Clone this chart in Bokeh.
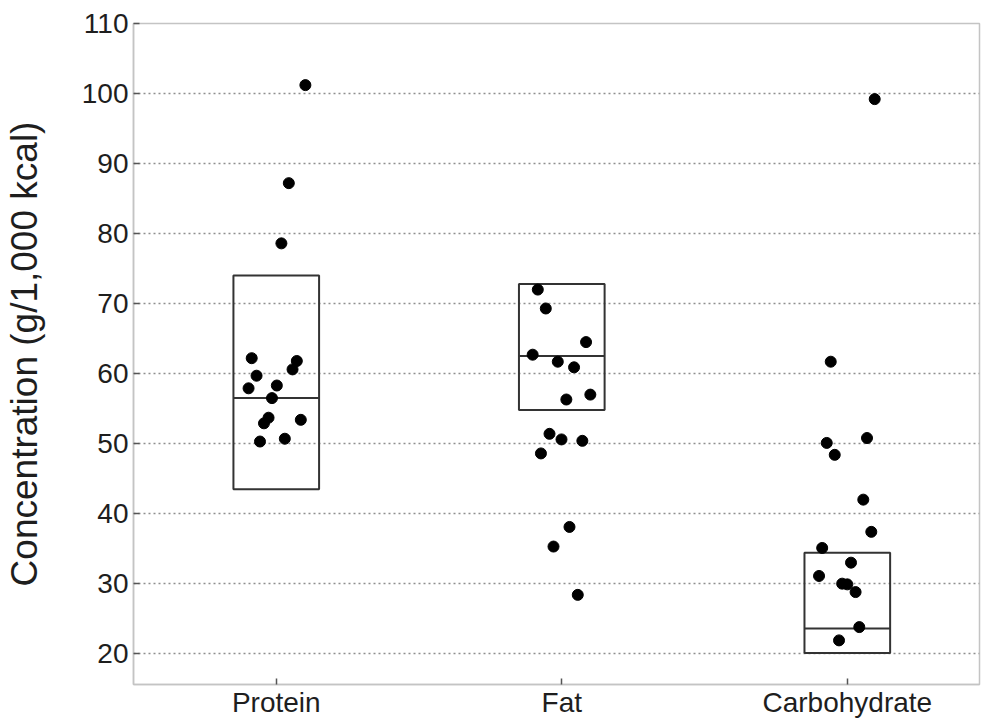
from bokeh.plotting import figure
from bokeh.models import ColumnDataSource, FixedTicker
from bokeh.embed import file_html
from bokeh.resources import INLINE

categories = ["Protein", "Fat", "Carbohydrate"]

# box statistics (lower, median, upper)
box_low = [43.5, 54.8, 20.1]
box_median = [56.5, 62.5, 23.6]
box_high = [74.0, 72.8, 34.4]

# individual observations per category with horizontal jitter
protein_values = [62.2, 59.7, 57.9, 58.3, 56.5, 61.8, 60.6, 53.7, 52.9, 53.4, 50.3, 50.7, 78.6, 87.2, 101.2]
protein_jitter = [-0.086, -0.069, -0.097, 0.002, -0.015, 0.072, 0.057, -0.027, -0.043, 0.086, -0.057, 0.030, 0.018, 0.044, 0.102]

fat_values = [72.0, 69.3, 64.5, 62.7, 61.7, 60.9, 56.3, 57.0, 51.4, 50.6, 50.4, 48.6, 38.1, 35.3, 28.4]
fat_jitter = [-0.084, -0.056, 0.085, -0.102, -0.014, 0.043, 0.016, 0.100, -0.043, -0.001, 0.072, -0.073, 0.027, -0.029, 0.056]

carb_values = [61.7, 50.1, 48.4, 50.8, 42.0, 37.4, 35.1, 33.0, 31.1, 30.0, 29.9, 28.8, 23.8, 21.9, 99.2]
carb_jitter = [-0.058, -0.072, -0.044, 0.069, 0.056, 0.084, -0.088, 0.013, -0.099, -0.018, 0.000, 0.029, 0.042, -0.029, 0.096]

y_ticks = [20, 30, 40, 50, 60, 70, 80, 90, 100, 110]

FONT = "Liberation Sans"
BOX_HALF = 0.15

p = figure(width=984, height=728, x_range=(0.5, 3.463), y_range=(15.6, 110),
           output_backend="svg", toolbar_location=None,
           min_border_left=133, min_border_right=5, min_border_top=23, min_border_bottom=44)

p.background_fill_color = "white"
p.border_fill_color = "white"
p.outline_line_color = "#c4c4c4"
p.outline_line_width = 1.5

# grid
p.xgrid.grid_line_color = None
p.ygrid.grid_line_color = "#8f8f8f"
p.ygrid.grid_line_dash = "2 3"
p.ygrid.grid_line_width = 1.5
p.ygrid.ticker = FixedTicker(ticks=y_ticks)

# axes
p.xaxis.ticker = FixedTicker(ticks=[1, 2, 3])
p.xaxis.major_label_overrides = {i + 1: c for i, c in enumerate(categories)}
p.yaxis.ticker = FixedTicker(ticks=y_ticks)
for ax in (p.xaxis, p.yaxis):
    ax.axis_line_color = "#c4c4c4"
    ax.axis_line_width = 1.5
    ax.major_tick_line_color = "#555555"
    ax.major_tick_line_width = 1.5
    ax.major_tick_in = 6
    ax.major_tick_out = 0
    ax.minor_tick_line_color = None
    ax.major_label_text_font = FONT
    ax.major_label_text_font_size = "28px"
    ax.major_label_text_color = "#1e1e1e"

p.xaxis.major_label_standoff = 2
p.yaxis.major_label_standoff = 5
p.yaxis.axis_label = "Concentration (g/1,000 kcal)"
p.yaxis.axis_label_text_font = FONT
p.yaxis.axis_label_text_font_size = "37px"
p.yaxis.axis_label_text_font_style = "normal"
p.yaxis.axis_label_text_color = "#1e1e1e"
p.yaxis.axis_label_standoff = 34

# boxes
xc = [i + 1 for i in range(len(categories))]
box_src = ColumnDataSource(dict(
    left=[x - BOX_HALF for x in xc], right=[x + BOX_HALF for x in xc],
    bottom=box_low, top=box_high, med=box_median))
p.quad(left="left", right="right", bottom="bottom", top="top", source=box_src,
       fill_color=None, line_color="#333333", line_width=2)
p.segment(x0="left", x1="right", y0="med", y1="med", source=box_src,
          line_color="#333333", line_width=2)

# points
xs, ys = [], []
for i, (vals, jit) in enumerate([(protein_values, protein_jitter),
                                 (fat_values, fat_jitter),
                                 (carb_values, carb_jitter)]):
    xs += [i + 1 + j for j in jit]
    ys += vals
p.scatter(x=xs, y=ys, size=11, color="black", line_color="black")

open("out.html", "w").write(file_html(p, INLINE))
